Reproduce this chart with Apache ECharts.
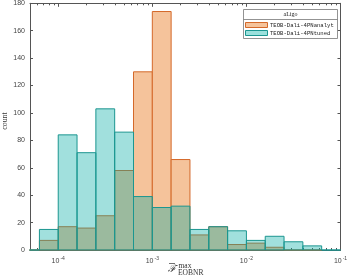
<!DOCTYPE html>
<html>
<head>
<meta charset="utf-8">
<script src="https://cdn.jsdelivr.net/npm/echarts@6/dist/echarts.min.js"></script>
<style>html,body{margin:0;padding:0;background:#fff}#c{width:349px;height:278px}</style>
</head>
<body>
<div id="c"></div>
<script>
// bin edges in log10 units
var binEdges = [-4.4,-4.2,-4.0,-3.8,-3.6,-3.4,-3.2,-3.0,-2.8,-2.6,-2.4,-2.2,-2.0,-1.8,-1.6,-1.4,-1.2,-1.0];
var analytCounts = [0,7,17,16,25,58,130,174,66,11,17,4,5,2,0,0,null];
var tunedCounts  = [0,15,84,71,103,86,39,31,32,15,17,14,7,10,6,3,0];
var majorExps = [-4,-3,-2,-1];
var yTicks = [0,20,40,60,80,100,120,140,160,180];
var seriesNames = ['TEOB-Dali-4PNanalyt','TEOB-Dali-4PNtuned'];
var legendTitle = 'aLigo';

var XMIN = -4.3, XMAX = -1;
var minorVals = [];
for (var e = -5; e <= -2; e++) for (var k = 2; k <= 9; k++) {
  var v = e + Math.log10(k);
  if (v > XMIN && v < XMAX) minorVals.push(v);
}

function binData(counts){
  var out = [];
  for (var i = 0; i < counts.length; i++) {
    if (counts[i] === null) continue;
    out.push([binEdges[i], binEdges[i+1], counts[i]]);
  }
  return out;
}

function makeRender(fill, stroke){
  return function(params, api){
    var p0 = api.coord([api.value(0), api.value(2)]);
    var p1 = api.coord([api.value(1), 0]);
    var rect = echarts.graphic.clipRectByRect(
      {x: p0[0], y: p0[1], width: p1[0]-p0[0], height: p1[1]-p0[1]},
      {x: params.coordSys.x-0.5, y: params.coordSys.y-1, width: params.coordSys.width+1, height: params.coordSys.height+1.5});
    if (!rect) return;
    return {type:'rect', shape: rect, style:{fill: fill, stroke: stroke, lineWidth: 1}};
  };
}

var orangeFill = '#f5c39b', orangeStroke = '#d4692a';
var tealFill = 'rgba(0,171,163,0.37)', tealStroke = '#1b9690', tealSwatch = '#9be0dc';
var axisColor = '#555';

var supLabel = function(v){ return '{b|10}{s|' + Math.round(v) + '}'; };

var chart = echarts.init(document.getElementById('c'));
var baseX = {type:'value', min:XMIN, max:XMAX, gridIndex:0, splitLine:{show:false}};
chart.setOption({
  animation:false,
  grid:{left:30, right:8.5, top:3.3, bottom:28, containLabel:false, outerBoundsMode:'none'},
  xAxis:[
    Object.assign({}, baseX, {position:'bottom',
      axisLine:{show:true, lineStyle:{color:axisColor, width:1}},
      axisTick:{show:true, inside:true, length:3.5, customValues:majorExps, lineStyle:{color:axisColor}},
      axisLabel:{show:true, customValues:majorExps, margin:6, formatter:supLabel, color:'#444',
        rich:{b:{fontSize:7, fontFamily:'Liberation Sans', color:'#444'},
              s:{fontSize:5, fontFamily:'Liberation Sans', color:'#444', padding:[0,0,5,1]}}}}),
    Object.assign({}, baseX, {position:'bottom',
      axisLine:{show:false},
      axisTick:{show:true, inside:true, length:2, customValues:minorVals, lineStyle:{color:axisColor}},
      axisLabel:{show:false}}),
    Object.assign({}, baseX, {position:'top',
      axisLine:{show:true, lineStyle:{color:axisColor, width:1}},
      axisTick:{show:true, inside:true, length:3.5, customValues:majorExps, lineStyle:{color:axisColor}},
      axisLabel:{show:false}}),
    Object.assign({}, baseX, {position:'top',
      axisLine:{show:false},
      axisTick:{show:true, inside:true, length:2, customValues:minorVals, lineStyle:{color:axisColor}},
      axisLabel:{show:false}})
  ],
  yAxis:[
    {type:'value', min:0, max:180, interval:20, position:'left', splitLine:{show:false},
     axisLine:{show:true, lineStyle:{color:axisColor}},
     axisTick:{show:true, inside:true, length:3, lineStyle:{color:axisColor}},
     axisLabel:{fontSize:7, fontFamily:'Liberation Sans', color:'#444', margin:5}},
    {type:'value', min:0, max:180, interval:20, position:'right', splitLine:{show:false},
     axisLine:{show:true, lineStyle:{color:axisColor}},
     axisTick:{show:true, inside:true, length:3, lineStyle:{color:axisColor}},
     axisLabel:{show:false}}
  ],
  graphic:[
    {type:'text', x:4.5, y:121, rotation:Math.PI/2, style:{text:'count', fontFamily:'Liberation Serif', fontSize:7.8, fill:'#333', align:'center', verticalAlign:'middle'}},
    {type:'rect', shape:{x:243.5, y:9.5, width:94, height:29}, style:{fill:'#fff', stroke:'#777', lineWidth:0.8}, z:100, silent:true},
    {type:'line', shape:{x1:243.5, y1:19.5, x2:337.5, y2:19.5}, style:{stroke:'#777', lineWidth:0.8}, z:101, silent:true},
    {type:'text', x:290.5, y:14.5, z:101, style:{text:legendTitle, fontFamily:'Liberation Serif', fontSize:6, fill:'#222', align:'center', verticalAlign:'middle'}},
    {type:'rect', z:101, shape:{x:245.5, y:22.5, width:22, height:5}, style:{fill:orangeFill, stroke:orangeStroke, lineWidth:1}},
    {type:'rect', z:101, shape:{x:245.5, y:30.5, width:22, height:5}, style:{fill:tealSwatch, stroke:tealStroke, lineWidth:1}},
    {type:'text', z:101, x:270, y:25.2, style:{text:seriesNames[0], fontFamily:'Liberation Mono', fontSize:5.6, fill:'#222', verticalAlign:'middle'}},
    {type:'text', z:101, x:270, y:33.2, style:{text:seriesNames[1], fontFamily:'Liberation Mono', fontSize:5.6, fill:'#222', verticalAlign:'middle'}},
    {type:'text', x:168, y:269, style:{text:'\u2131', fontFamily:'DejaVu Serif', fontStyle:'italic', fontSize:10, fill:'#333', verticalAlign:'middle'}},
    {type:'line', shape:{x1:169, y1:263.5, x2:175, y2:263.5}, style:{stroke:'#333', lineWidth:0.7}},
    {type:'text', x:178.5, y:266, style:{text:'max', fontFamily:'Liberation Serif', fontSize:7.5, fill:'#333', verticalAlign:'middle'}},
    {type:'text', x:178, y:273.5, style:{text:'EOBNR', fontFamily:'Liberation Serif', fontSize:7.5, fill:'#333', verticalAlign:'middle'}}
  ],
  series:[
    {type:'custom', name:seriesNames[0], xAxisIndex:0, yAxisIndex:0, renderItem:makeRender(orangeFill, orangeStroke),
     encode:{x:[0,1], y:2}, data:binData(analytCounts), z:2},
    {type:'custom', name:seriesNames[1], xAxisIndex:0, yAxisIndex:0, renderItem:makeRender(tealFill, tealStroke),
     encode:{x:[0,1], y:2}, data:binData(tunedCounts), z:3}
  ]
});
</script>
</body>
</html>
